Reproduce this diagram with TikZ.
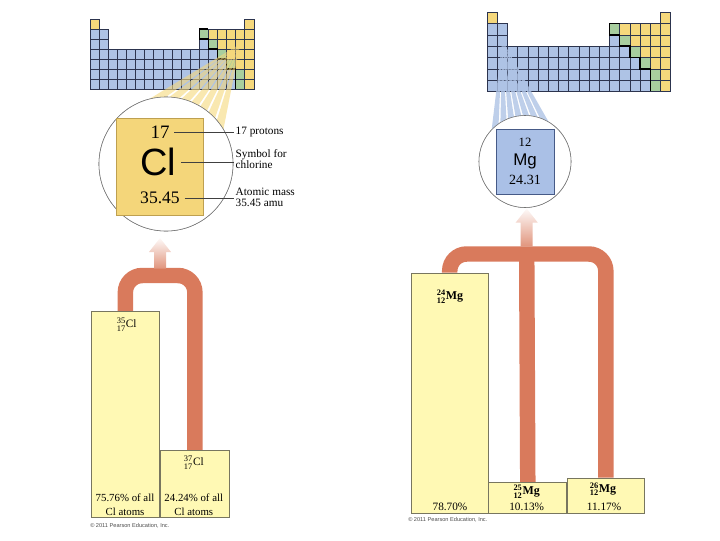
\documentclass[tikz,border=0pt]{standalone}
\usepackage{amsmath}
\usepackage{fontspec}
\setmainfont{Liberation Serif}
\setsansfont{Liberation Sans}
\usepackage{tikz}
\usetikzlibrary{calc, positioning}
\definecolor{PipeColour}{RGB}{217,122,92}
\definecolor{isoyellow}{RGB}{255,249,180}
\definecolor{isoedge}{RGB}{120,118,95}
\definecolor{metal}{RGB}{174,195,229}
\definecolor{nonmetal}{RGB}{245,216,124}
\definecolor{semimetal}{RGB}{168,206,158}
\definecolor{gridline}{RGB}{44,52,78}
\definecolor{clface}{RGB}{244,214,122}
\definecolor{cledge}{RGB}{190,160,80}
\definecolor{mgface}{RGB}{170,192,230}
\definecolor{mgedge}{RGB}{70,90,135}

\newcommand{\iso}[3]{$^{\text{#1}}_{\text{#2}}$#3}

% periodic table, in cell units
\newcommand{\ptable}{%
  \fill[nonmetal] (0,0) rectangle (1,1);
  \fill[nonmetal] (17,0) rectangle (18,1);
  \fill[metal] (0,1) rectangle (2,7);
  \fill[metal] (2,3) rectangle (12,7);
  \foreach \r/\g in {2/13,3/14,4/15,5/16,6/17,7/17}{
    \fill[metal] (12,\r-1) rectangle (\g-1,\r);
    \fill[semimetal] (\g-1,\r-1) rectangle (\g,\r);
    \fill[nonmetal] (\g,\r-1) rectangle (18,\r);
  }
  \foreach \r in {4,...,7} \foreach \c in {1,...,18}
    \draw[ptgrid] (\c-1,\r-1) rectangle (\c,\r);
  \foreach \r in {2,3} \foreach \c in {1,2,13,14,15,16,17,18}
    \draw[ptgrid] (\c-1,\r-1) rectangle (\c,\r);
  \draw[ptgrid] (0,0) rectangle (1,1) (17,0) rectangle (18,1);
  \draw[ptstair] (13,1) -- (12,1) -- (12,2) -- (13,2) -- (13,3) -- (14,3)
    -- (14,4) -- (15,4) -- (15,5) -- (16,5) -- (16,7);
}

% light rays from a cell to the zoom circle
\newcommand{\rayfan}[4]{%
  \foreach \i [evaluate=\i as \a using \i/7, evaluate=\i as \b using (\i+0.78)/7] in {0,...,6}
    \fill[#4] (#1) -- ($(#2)!\a!(#3)$) -- ($(#2)!\b!(#3)$) -- cycle;
}

% up arrow fading out towards the circle
\newcommand{\fadearrow}[2]{%
  \shade[top color=PipeColour!4, bottom color=PipeColour!80]
    ($(#1)+(-6,0)$) -- ($(#2)+(-6,14)$) -- ($(#2)+(-11,14)$) -- (#2)
    -- ($(#2)+(11,14)$) -- ($(#2)+(6,14)$) -- ($(#1)+(6,0)$) -- cycle;
}

\begin{document}
\begin{tikzpicture}[
  x=0.025cm, y=-0.025cm,
  font=\fontsize{8}{8}\selectfont,
  isobox/.style={draw=isoedge, fill=isoyellow, line width=0.5pt, inner sep=0pt},
  pipe/.style={draw=PipeColour, line width=11pt, rounded corners=12pt},
  ptgrid/.style={draw=gridline, line width=0.3pt},
  ptstair/.style={draw=black, line width=1pt},
  zoomring/.style={circle, draw=black!55, fill=white, line width=0.4pt, inner sep=0pt},
  callout/.style={draw=black!75, line width=0.4pt},
  lbl/.style={anchor=west, align=left, inner sep=1pt},
  credit/.style={anchor=west, inner sep=0pt, text=black!70, font=\fontsize{4}{4}\selectfont\sffamily},
]
\useasboundingbox (0,0) rectangle (720,540);

% Periodic tables
\begin{scope}[shift={(90,19)}, x={(9.1,0)}, y={(0,10)}]
  \ptable
  \coordinate (clcell) at (16.5,2.5);
\end{scope}
\begin{scope}[shift={(487,12.3)}, x={(10.2,0)}, y={(0,11.3)}]
  \ptable
  \coordinate (mgcell) at (1.5,2.5);
\end{scope}

% Zoom circles, rays behind them
\node[zoomring, minimum size=3.35cm] (clcirc) at (166,164) {};
\node[zoomring, minimum size=2.3cm] (mgcirc) at (525,161.5) {};
\rayfan{clcell}{clcirc.104}{clcirc.28}{nonmetal, opacity=0.6}
\rayfan{mgcell}{mgcirc.136}{mgcirc.55}{metal, opacity=0.8}
\node[zoomring, minimum size=3.35cm] at (clcirc) {};
\node[zoomring, minimum size=2.3cm] at (mgcirc) {};

% Chlorine square
\node[draw=cledge, fill=clface, line width=0.4pt, minimum width=2.175cm, minimum height=2.425cm] (clsq) at (159.5,166.5) {};
\node[font=\fontsize{13.5}{14}\selectfont] (clnum) at (160,132) {17};
\node[font=\fontsize{27}{28}\selectfont\sffamily] (clsym) at (158,162) {Cl};
\node[font=\fontsize{12.5}{13}\selectfont] (clmass) at (160,198) {35.45};
\node[lbl] (lblprot) at (234,132) {17 protons};
\node[lbl] (lblsym) at (234,159) {Symbol for\\chlorine};
\node[lbl] (lblmass) at (234,197.5) {Atomic mass\\35.45 amu};
\draw[callout] (clnum.east) -- (clnum.east -| lblprot.west);
\draw[callout] (clsym.east) -- (clsym.east -| lblsym.west);
\draw[callout] (clmass.east) -- (clmass.east -| lblmass.west);

% Magnesium square
\node[draw=mgedge, fill=mgface, line width=0.4pt, minimum width=1.43cm, minimum height=1.625cm] (mgsq) at (525.3,161.5) {};
\node[font=\fontsize{9}{9}\selectfont] (mgnum) at (525,142.7) {12};
\node[font=\fontsize{12}{12}\selectfont\sffamily] (mgsym) at (525,161.7) {Mg};
\node[font=\fontsize{10}{10}\selectfont] (mgmass) at (525,180) {24.31};

% Chlorine isotopes
\coordinate (clbar) at (160,275.5);
\coordinate (cltip) at (160,238);
\node[isobox, anchor=south west, minimum width=1.715cm, minimum height=5.1575cm] (cl35) at (90.7,518) {};
\node[isobox, anchor=south west, minimum width=1.725cm, minimum height=1.675cm] (cl37) at (cl35.south east) {};
\draw[pipe] (cl35.north) |- (clbar) -| (cl37.north);
\node[isobox, anchor=south west, minimum width=1.715cm, minimum height=5.1575cm] at (cl35.south west) {};
\node[isobox, anchor=south west, minimum width=1.725cm, minimum height=1.675cm] at (cl37.south west) {};
\fadearrow{$(clbar)+(0,-7)$}{cltip}
\node (cl35lbl) at (126.7,325) {\iso{35}{17}{Cl}};
\node (cl37lbl) at (193.8,463) {\iso{37}{17}{Cl}};
\node[align=center, font=\fontsize{7.7}{10}\selectfont] (cl35pct) at (125,505) {75.76\% of all\\Cl atoms};
\node[align=center, font=\fontsize{7.7}{10}\selectfont] (cl37pct) at (193.8,505) {24.24\% of all\\Cl atoms};
\node[credit] (credL) at (90,526) {\textcopyright\ 2011 Pearson Education, Inc.};

% Magnesium isotopes
\coordinate (mgbar) at (526.7,254);
\coordinate (mgtip) at (526.7,208.5);
\node[isobox, anchor=south west, minimum width=1.9175cm, minimum height=6cm] (mg24) at (411,513.3) {};
\node[isobox, anchor=south west, minimum width=1.95cm, minimum height=0.765cm] (mg25) at (mg24.south east) {};
\node[isobox, anchor=south west, minimum width=1.915cm, minimum height=0.875cm] (mg26) at (mg25.south east) {};
\draw[pipe] (mg24.north) |- (mgbar) -| (mg26.north);
\draw[pipe] (mgbar) -- (mg25.north);
\node[isobox, anchor=south west, minimum width=1.9175cm, minimum height=6cm] at (mg24.south west) {};
\node[isobox, anchor=south west, minimum width=1.95cm, minimum height=0.765cm] at (mg25.south west) {};
\node[isobox, anchor=south west, minimum width=1.915cm, minimum height=0.875cm] at (mg26.south west) {};
\fadearrow{$(mgbar)+(0,-7.5)$}{mgtip}
\node[font=\fontsize{8.5}{9}\selectfont\bfseries] (mg24lbl) at (450,297) {\iso{24}{12}{Mg}};
\node[font=\fontsize{8.5}{9}\selectfont\bfseries] (mg25lbl) at (526.7,492) {\iso{25}{12}{Mg}};
\node[font=\fontsize{8.5}{9}\selectfont\bfseries] (mg26lbl) at (603,489.3) {\iso{26}{12}{Mg}};
\node[font=\fontsize{8}{8}\selectfont] (mg24pct) at (450,507) {78.70\%};
\node[font=\fontsize{8}{8}\selectfont] (mg25pct) at (526.7,507) {10.13\%};
\node[font=\fontsize{8}{8}\selectfont] (mg26pct) at (604,507) {11.17\%};
\node[credit] (credR) at (408,520) {\textcopyright\ 2011 Pearson Education, Inc.};
\end{tikzpicture}
\end{document}
